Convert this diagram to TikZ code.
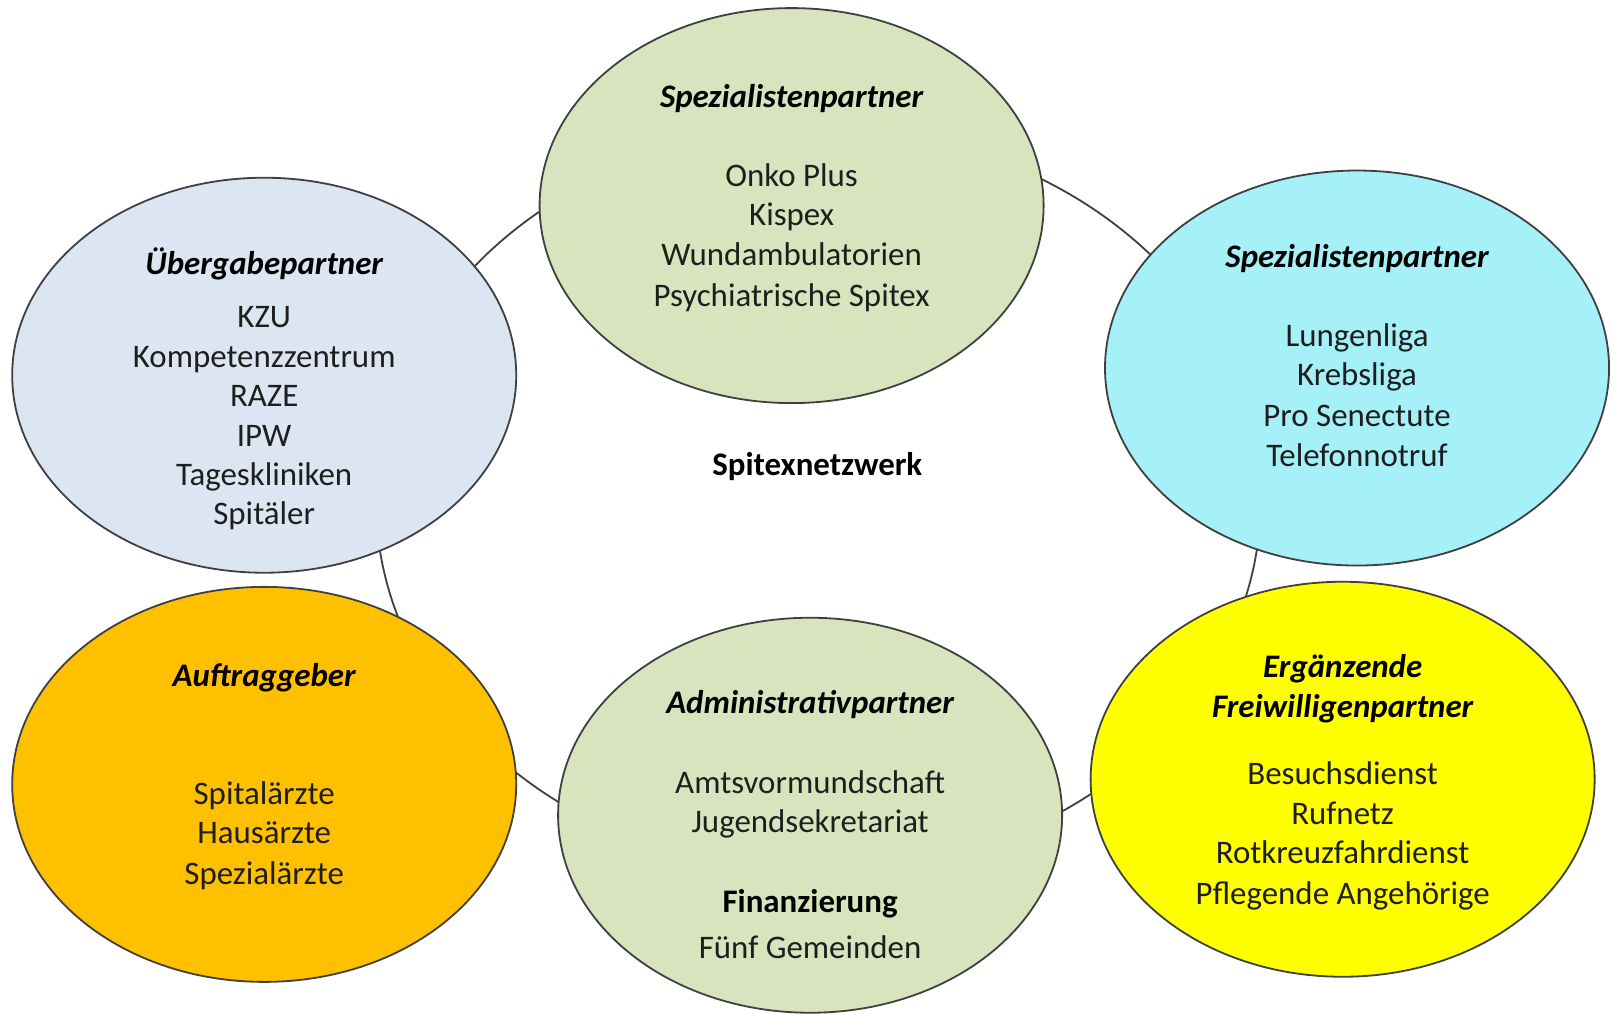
\documentclass[tikz,border=0pt]{standalone}
\usepackage{fontspec}
\setmainfont{Carlito}
\usetikzlibrary{shapes.geometric}
\definecolor{cgreen}{HTML}{D7E4BD}
\definecolor{cblue}{HTML}{DCE6F2}
\definecolor{ccyan}{HTML}{A6F0F8}
\definecolor{corange}{HTML}{FFC000}
\definecolor{cyellow}{HTML}{FFFF00}
\definecolor{cline}{HTML}{404040}
\definecolor{ctext}{HTML}{1E1E1E}
\tikzset{
  bubble/.style={ellipse, draw=cline, line width=0.5pt, minimum width=4.9cm, minimum height=3.84cm, inner sep=0pt},
  ring/.style={draw=cline, line width=0.5pt},
  txt/.style={anchor=mid, inner sep=0pt, yshift=-0.03cm},
  hd/.style={txt, font=\fontsize{9.1}{11}\selectfont\bfseries\itshape, text=black},
  it/.style={txt, font=\fontsize{9.1}{11}\selectfont, text=ctext},
  bd/.style={txt, font=\fontsize{9.1}{11}\selectfont\bfseries, text=black}
}
\begin{document}
\begin{tikzpicture}[x=0.01cm, y=-0.01cm]
\useasboundingbox (0,0) rectangle (1568,986);
\fill[white] (0,0) rectangle (1568,986);
% background ring
\draw[ring] (796,487) ellipse [x radius=4.30cm, y radius=3.62cm];
% bubbles
\node[bubble, fill=cgreen] (top) at (770,200) {};
\node[bubble, fill=cblue] (ul) at (257,365) {};
\node[bubble, fill=ccyan] (ur) at (1320,358) {};
\node[bubble, fill=corange] (ll) at (257,763) {};
\node[bubble, fill=cgreen] (bot) at (788,793) {};
\node[bubble, fill=cyellow] (lr) at (1306,758) {};
% centre
\node[bd] (c) at (795,451) {Spitexnetzwerk};
% top
\node[hd] (t0) at (770,93) {Spezialistenpartner};
\node[it] (t1) at (770,170) {Onko Plus};
\node[it] (t2) at (770,208) {Kispex};
\node[it] (t3) at (770,247) {Wundambulatorien};
\node[it] (t4) at (770,287) {Psychiatrische Spitex};
% upper left
\node[hd] (a0) at (257,256) {Übergabepartner};
\node[it] (a1) at (257,307) {KZU};
\node[it] (a2) at (257,346) {Kompetenzzentrum};
\node[it] (a3) at (257,384) {RAZE};
\node[it] (a4) at (257,423) {IPW};
\node[it] (a5) at (257,461) {Tageskliniken};
\node[it] (a6) at (257,499) {Spitäler};
% upper right
\node[hd] (b0) at (1320,249) {Spezialistenpartner};
\node[it] (b1) at (1320,326) {Lungenliga};
\node[it] (b2) at (1320,364) {Krebsliga};
\node[it] (b3) at (1320,403) {Pro Senectute};
\node[it] (b4) at (1320,442) {Telefonnotruf};
% lower left
\node[hd] (d0) at (257,656) {Auftraggeber};
\node[it] (d1) at (257,771) {Spitalärzte};
\node[it] (d2) at (257,809) {Hausärzte};
\node[it] (d3) at (257,849) {Spezialärzte};
% bottom
\node[hd] (e0) at (788,683) {Administrativpartner};
\node[it] (e1) at (788,760) {Amtsvormundschaft};
\node[it] (e2) at (788,798) {Jugendsekretariat};
\node[bd] (e3) at (788,876) {Finanzierung};
\node[it] (e4) at (788,921) {Fünf Gemeinden};
% lower right
\node[hd] (f0) at (1306,648) {Ergänzende};
\node[hd] (f1) at (1306,687) {Freiwilligenpartner};
\node[it] (f2) at (1306,752) {Besuchsdienst};
\node[it] (f3) at (1306,791) {Rufnetz};
\node[it] (f4) at (1306,829) {Rotkreuzfahrdienst};
\node[it] (f5) at (1306,868) {Pflegende Angehörige};
\end{tikzpicture}
\end{document}
